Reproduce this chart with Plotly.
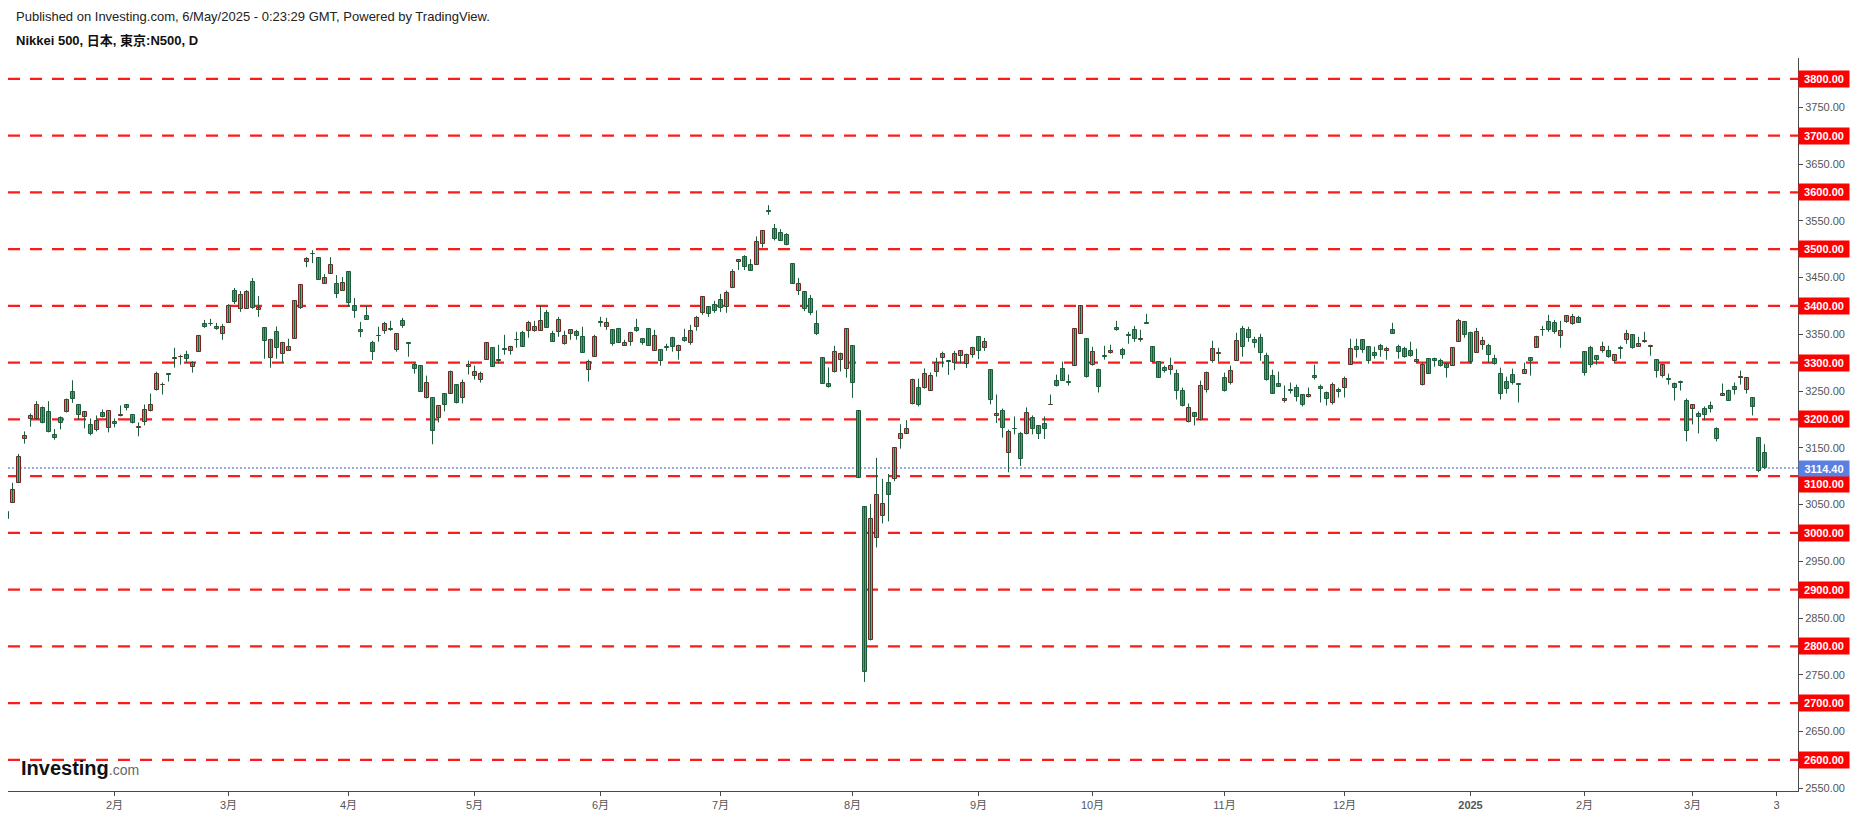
import plotly.graph_objects as go

# ---- data (daily OHLC, Nikkei 500, bar index = trading day) ----
opens = [
    3037.0, 3052.6, 3087.7, 3164.9, 3200.0, 3200.6, 3219.3, 3212.3, 3171.9, 3201.8,
    3212.3, 3249.1, 3226.3, 3203.5, 3189.5, 3180.7, 3210.5, 3184.2, 3194.7, 3206.5,
    3226.3, 3207.0, 3185.5, 3194.7, 3214.0, 3252.6, 3260.3, 3279.5, 3306.8, 3309.5,
    3314.0, 3293.0, 3319.3, 3368.4, 3368.4, 3363.2, 3350.9, 3370.2, 3426.3, 3394.7,
    3394.7, 3442.1, 3393.0, 3361.4, 3308.8, 3354.4, 3315.8, 3321.0, 3342.1, 3396.5,
    3477.2, 3491.5, 3484.2, 3438.6, 3456.1, 3438.6, 3426.3, 3459.6, 3400.0, 3357.9,
    3382.5, 3335.1, 3347.0, 3356.2, 3359.7, 3322.8, 3373.7, 3333.3, 3296.5, 3294.8,
    3236.9, 3236.9, 3201.8, 3245.6, 3245.6, 3261.4, 3236.9, 3293.0, 3277.2, 3270.2,
    3305.3, 3326.3, 3303.5, 3323.2, 3321.0, 3340.0, 3352.6, 3356.2, 3356.2, 3356.2,
    3387.7, 3350.9, 3354.4, 3333.3, 3350.9, 3354.4, 3345.6, 3287.7, 3310.5, 3370.5,
    3363.2, 3357.9, 3359.7, 3329.8, 3336.9, 3361.4, 3342.1, 3359.7, 3321.0, 3322.8,
    3326.5, 3343.9, 3321.0, 3343.9, 3335.1, 3363.2, 3387.7, 3398.2, 3401.7, 3410.8,
    3398.1, 3431.4, 3477.3, 3485.8, 3471.9, 3471.9, 3508.7, 3566.3, 3535.3, 3528.1,
    3524.4, 3473.7, 3426.5, 3424.7, 3412.0, 3368.5, 3308.7, 3263.3, 3282.7, 3305.0,
    3289.3, 3329.8, 3215.6, 3045.8, 2810.6, 2991.4, 3029.4, 3087.5, 3094.7, 3164.8,
    3175.1, 3226.5, 3256.1, 3256.1, 3250.6, 3282.7, 3308.7, 3302.3, 3300.2, 3312.3,
    3298.4, 3314.1, 3345.5, 3326.2, 3287.5, 3205.3, 3215.6, 3140.0, 3182.8, 3173.7,
    3173.7, 3201.8, 3187.7, 3191.2, 3225.5, 3268.4, 3289.5, 3265.2, 3294.8, 3350.9,
    3342.1, 3296.5, 3287.7, 3310.8, 3317.5, 3361.4, 3322.8, 3347.7, 3357.9, 3340.4,
    3370.2, 3328.1, 3301.8, 3291.2, 3287.7, 3280.7, 3250.9, 3194.8, 3210.5, 3198.2,
    3252.6, 3303.5, 3316.0, 3273.7, 3264.9, 3303.5, 3359.7, 3357.9, 3340.4, 3343.9,
    3312.3, 3277.2, 3263.2, 3231.6, 3251.2, 3256.1, 3243.9, 3240.3, 3277.2, 3257.9,
    3247.4, 3228.1, 3252.6, 3256.1, 3296.5, 3328.1, 3340.4, 3328.1, 3317.5, 3329.8,
    3321.0, 3357.9, 3328.1, 3324.6, 3321.1, 3301.8, 3261.4, 3307.0, 3307.0, 3303.5,
    3298.2, 3294.7, 3336.9, 3371.9, 3352.6, 3317.6, 3331.6, 3329.8, 3307.0, 3280.7,
    3266.7, 3279.0, 3261.0, 3280.7, 3308.8, 3326.3, 3357.6, 3371.9, 3370.2, 3347.4,
    3371.9, 3368.4, 3379.0, 3319.3, 3326.3, 3312.3, 3321.1, 3321.1, 3303.5, 3324.8,
    3340.4, 3349.1, 3328.1, 3336.9, 3328.1, 3305.3, 3277.2, 3270.5, 3263.2, 3265.2,
    3233.3, 3217.6, 3208.8, 3217.6, 3222.8, 3182.5, 3242.1, 3250.9, 3257.9, 3273.4,
    3252.6, 3238.6, 3166.7, 3140.4,
]
highs = [
    3037.0, 3088.3, 3139.2, 3178.9, 3210.5, 3232.2, 3222.8, 3232.2, 3183.1, 3205.3,
    3236.8, 3269.0, 3226.3, 3214.0, 3201.8, 3207.0, 3217.5, 3214.0, 3201.8, 3224.6,
    3226.3, 3207.0, 3194.7, 3226.3, 3245.6, 3284.2, 3264.9, 3281.3, 3326.3, 3314.0,
    3321.0, 3302.3, 3349.1, 3375.4, 3377.2, 3370.2, 3368.4, 3402.9, 3431.6, 3426.3,
    3428.1, 3449.1, 3417.5, 3361.4, 3342.1, 3363.7, 3336.8, 3342.1, 3410.5, 3436.8,
    3486.0, 3498.2, 3484.2, 3456.1, 3486.0, 3454.4, 3450.9, 3459.6, 3414.0, 3371.9,
    3400.0, 3338.6, 3363.2, 3371.9, 3373.7, 3350.9, 3379.0, 3333.3, 3300.0, 3294.8,
    3277.2, 3236.9, 3222.8, 3245.6, 3286.0, 3261.4, 3270.2, 3303.5, 3294.8, 3284.2,
    3335.1, 3326.3, 3331.6, 3349.1, 3329.8, 3354.4, 3356.2, 3373.7, 3373.7, 3400.0,
    3393.0, 3356.2, 3380.7, 3356.2, 3357.9, 3357.9, 3363.2, 3305.3, 3349.1, 3380.7,
    3379.0, 3357.9, 3361.4, 3340.4, 3354.4, 3377.2, 3342.1, 3359.7, 3357.9, 3322.8,
    3333.3, 3345.6, 3331.6, 3359.7, 3366.7, 3382.5, 3415.8, 3398.2, 3409.0, 3421.1,
    3427.1, 3464.6, 3480.9, 3489.4, 3482.7, 3522.6, 3531.7, 3577.6, 3544.4, 3535.3,
    3528.1, 3475.5, 3449.5, 3424.7, 3419.3, 3392.1, 3308.7, 3291.7, 3329.8, 3317.7,
    3361.2, 3329.8, 3215.6, 3045.8, 3051.2, 3132.2, 3095.3, 3103.8, 3149.1, 3191.4,
    3198.7, 3271.8, 3271.8, 3289.9, 3282.7, 3308.7, 3319.5, 3303.8, 3320.8, 3320.8,
    3315.9, 3328.0, 3345.5, 3343.7, 3287.5, 3244.0, 3219.2, 3182.3, 3205.3, 3178.0,
    3221.1, 3207.0, 3189.5, 3205.3, 3243.9, 3279.0, 3301.8, 3279.0, 3359.7, 3400.0,
    3342.1, 3328.1, 3289.5, 3329.8, 3331.6, 3373.7, 3326.3, 3354.4, 3364.9, 3357.9,
    3386.0, 3328.1, 3301.8, 3294.8, 3308.8, 3287.7, 3256.1, 3228.1, 3212.3, 3268.4,
    3284.2, 3338.6, 3326.3, 3282.5, 3294.8, 3352.6, 3364.9, 3363.2, 3345.6, 3350.9,
    3317.5, 3287.7, 3284.2, 3259.7, 3264.9, 3261.4, 3243.9, 3256.1, 3296.5, 3261.4,
    3249.1, 3264.9, 3256.1, 3275.5, 3342.1, 3342.1, 3340.4, 3328.1, 3328.1, 3333.3,
    3328.1, 3370.2, 3331.6, 3328.1, 3336.9, 3324.6, 3300.0, 3307.0, 3308.8, 3307.0,
    3300.0, 3326.3, 3377.2, 3371.9, 3354.4, 3361.4, 3345.6, 3333.3, 3314.0, 3291.2,
    3275.4, 3289.5, 3261.0, 3300.0, 3308.8, 3347.4, 3364.9, 3384.2, 3375.4, 3373.7,
    3384.2, 3386.0, 3382.5, 3319.3, 3329.8, 3312.3, 3336.9, 3329.8, 3314.0, 3329.8,
    3357.9, 3349.1, 3345.6, 3354.4, 3331.6, 3305.3, 3296.5, 3280.7, 3265.0, 3268.4,
    3236.9, 3226.3, 3214.0, 3222.8, 3231.6, 3186.0, 3263.2, 3252.6, 3265.0, 3286.0,
    3273.7, 3238.6, 3166.7, 3156.2,
]
lows = [
    3024.0, 3052.6, 3087.7, 3157.3, 3187.1, 3199.4, 3193.0, 3177.2, 3164.3, 3182.5,
    3212.3, 3229.2, 3199.4, 3184.2, 3171.9, 3178.9, 3203.5, 3177.2, 3186.0, 3205.3,
    3215.8, 3193.0, 3170.2, 3189.5, 3214.0, 3250.9, 3243.9, 3266.7, 3291.2, 3296.5,
    3300.0, 3282.5, 3319.3, 3361.4, 3364.9, 3357.9, 3340.3, 3370.2, 3403.5, 3389.5,
    3394.7, 3394.7, 3380.7, 3307.0, 3291.2, 3307.0, 3300.0, 3321.0, 3342.1, 3394.7,
    3468.4, 3475.4, 3445.6, 3438.6, 3456.1, 3414.0, 3426.3, 3398.2, 3379.0, 3345.0,
    3375.5, 3304.7, 3336.9, 3350.9, 3356.2, 3319.3, 3361.4, 3310.5, 3280.7, 3249.1,
    3236.9, 3156.2, 3194.8, 3214.1, 3245.6, 3228.1, 3228.1, 3279.0, 3270.2, 3264.9,
    3305.3, 3293.0, 3298.2, 3314.0, 3314.0, 3326.3, 3328.1, 3343.9, 3354.4, 3356.2,
    3361.4, 3336.9, 3345.6, 3331.6, 3340.4, 3340.4, 3317.5, 3266.7, 3310.5, 3363.2,
    3357.9, 3329.8, 3335.1, 3329.8, 3329.8, 3354.4, 3331.6, 3329.8, 3321.0, 3294.8,
    3321.0, 3319.3, 3305.3, 3336.9, 3331.6, 3356.2, 3384.2, 3380.7, 3387.8, 3389.1,
    3387.8, 3431.4, 3463.4, 3463.4, 3461.6, 3471.9, 3502.7, 3560.7, 3515.4, 3514.2,
    3506.9, 3438.6, 3419.3, 3390.9, 3383.6, 3348.6, 3263.3, 3256.1, 3282.7, 3284.5,
    3273.6, 3238.0, 3096.5, 2737.5, 2810.6, 2974.4, 3016.7, 3020.4, 3091.1, 3148.5,
    3175.1, 3226.5, 3222.8, 3254.3, 3250.6, 3275.4, 3291.7, 3278.4, 3286.9, 3298.4,
    3290.5, 3308.7, 3306.2, 3320.8, 3226.5, 3193.8, 3167.8, 3106.8, 3173.7, 3118.0,
    3173.7, 3173.7, 3165.5, 3165.5, 3225.5, 3257.9, 3268.4, 3259.7, 3294.8, 3350.9,
    3273.7, 3294.8, 3247.4, 3305.3, 3315.8, 3356.2, 3307.0, 3333.3, 3336.8, 3336.8,
    3368.4, 3301.8, 3273.7, 3282.5, 3279.0, 3235.1, 3222.8, 3194.8, 3189.5, 3198.2,
    3247.4, 3300.0, 3301.8, 3249.1, 3261.4, 3303.5, 3310.5, 3336.8, 3326.3, 3303.5,
    3268.4, 3245.6, 3257.9, 3229.8, 3245.6, 3231.6, 3222.8, 3238.6, 3270.2, 3229.8,
    3224.6, 3226.3, 3238.6, 3238.6, 3296.5, 3308.8, 3317.5, 3298.2, 3307.0, 3310.5,
    3305.3, 3350.9, 3307.0, 3308.8, 3310.5, 3300.0, 3259.7, 3280.7, 3293.0, 3293.0,
    3273.7, 3294.7, 3336.9, 3343.9, 3298.2, 3317.6, 3322.8, 3300.0, 3296.5, 3235.1,
    3245.6, 3261.4, 3229.8, 3280.7, 3277.2, 3326.3, 3347.4, 3354.4, 3350.9, 3326.3,
    3370.2, 3366.7, 3370.2, 3277.2, 3291.2, 3296.5, 3317.6, 3308.8, 3300.0, 3307.0,
    3333.3, 3324.6, 3328.1, 3335.1, 3312.3, 3273.7, 3273.7, 3261.4, 3233.3, 3250.9,
    3161.4, 3191.2, 3175.4, 3198.3, 3212.3, 3161.4, 3242.1, 3233.3, 3243.9, 3261.4,
    3245.6, 3207.0, 3107.0, 3112.3,
]
closes = [
    3024.0, 3075.4, 3133.3, 3170.2, 3205.3, 3224.6, 3193.0, 3177.2, 3166.7, 3193.0,
    3235.1, 3236.8, 3207.0, 3212.3, 3173.7, 3196.5, 3203.5, 3214.0, 3191.2, 3207.0,
    3219.3, 3193.0, 3186.0, 3215.8, 3224.6, 3280.7, 3260.8, 3279.0, 3307.0, 3309.9,
    3307.0, 3300.0, 3347.4, 3363.2, 3368.0, 3359.6, 3363.2, 3400.0, 3407.0, 3419.3,
    3424.6, 3396.5, 3396.5, 3338.6, 3340.3, 3326.3, 3335.1, 3328.1, 3408.8, 3436.8,
    3482.5, 3491.2, 3445.6, 3449.1, 3471.9, 3421.0, 3440.4, 3405.3, 3391.2, 3354.4,
    3375.5, 3319.3, 3347.4, 3368.4, 3357.9, 3350.9, 3364.9, 3333.0, 3289.5, 3249.1,
    3264.9, 3179.0, 3222.8, 3226.3, 3284.2, 3228.1, 3264.9, 3296.5, 3284.2, 3280.7,
    3335.1, 3293.0, 3305.3, 3322.8, 3328.1, 3340.4, 3328.1, 3370.2, 3363.2, 3373.7,
    3361.4, 3336.9, 3375.5, 3347.4, 3357.9, 3347.4, 3317.5, 3301.8, 3345.6, 3370.2,
    3370.2, 3333.3, 3335.1, 3335.1, 3352.6, 3356.2, 3335.1, 3329.8, 3347.4, 3303.5,
    3326.3, 3328.1, 3329.8, 3338.6, 3356.2, 3379.0, 3415.8, 3386.0, 3391.0, 3396.3,
    3422.9, 3460.4, 3480.9, 3468.2, 3461.6, 3512.3, 3531.7, 3566.1, 3517.2, 3514.2,
    3506.9, 3438.6, 3438.6, 3394.5, 3387.2, 3350.4, 3263.3, 3257.3, 3318.9, 3315.9,
    3359.4, 3264.5, 3096.5, 2755.6, 3024.6, 3066.3, 3050.6, 3066.3, 3149.1, 3175.1,
    3182.3, 3270.0, 3224.7, 3280.9, 3277.2, 3300.2, 3315.9, 3302.0, 3315.9, 3320.8,
    3314.1, 3326.2, 3320.8, 3337.1, 3234.9, 3208.9, 3184.2, 3178.7, 3182.5, 3130.0,
    3210.5, 3182.5, 3173.7, 3182.5, 3225.8, 3259.7, 3268.4, 3264.9, 3359.7, 3400.0,
    3275.5, 3319.3, 3257.9, 3310.5, 3321.0, 3357.9, 3314.0, 3347.4, 3342.1, 3342.1,
    3368.4, 3301.8, 3273.7, 3286.0, 3294.8, 3250.9, 3222.8, 3219.3, 3203.5, 3259.7,
    3282.5, 3324.6, 3316.4, 3250.3, 3286.0, 3338.6, 3328.1, 3343.9, 3335.1, 3317.5,
    3270.2, 3245.6, 3257.9, 3236.8, 3250.9, 3240.3, 3226.3, 3243.9, 3273.7, 3254.4,
    3236.8, 3261.4, 3249.1, 3271.9, 3324.6, 3322.8, 3322.8, 3303.5, 3312.3, 3322.8,
    3324.6, 3350.9, 3319.3, 3310.5, 3312.3, 3305.3, 3296.5, 3280.7, 3303.5, 3294.7,
    3291.2, 3326.3, 3373.7, 3349.1, 3301.8, 3354.4, 3338.6, 3314.0, 3298.2, 3245.6,
    3254.4, 3265.0, 3260.8, 3287.7, 3303.5, 3345.6, 3357.9, 3357.9, 3354.4, 3356.1,
    3382.5, 3380.7, 3370.2, 3282.5, 3296.5, 3305.3, 3328.1, 3310.5, 3314.0, 3324.6,
    3350.9, 3326.3, 3333.3, 3338.6, 3329.8, 3286.0, 3296.5, 3270.2, 3256.1, 3265.0,
    3179.0, 3224.6, 3203.5, 3207.0, 3217.6, 3164.9, 3245.6, 3233.3, 3252.6, 3273.7,
    3273.7, 3221.1, 3108.8, 3114.4,
]

month_tick_bars = [18, 37, 57, 78, 99, 119, 141, 162, 181, 203, 223, 244, 263, 281, 295]
month_tick_labels = ["2月", "3月", "4月", "5月", "6月", "7月", "8月", "9月", "10月",
                     "11月", "12月", "<b>2025</b>", "2月", "3月", "3"]
level_lines = [2600, 2700, 2800, 2900, 3000, 3100, 3200, 3300, 3400, 3500, 3600, 3700, 3800]
axis_ticks = [2550, 2650, 2750, 2850, 2950, 3050, 3150, 3250, 3350, 3450, 3550, 3650, 3750]
last_price = 3114.40

title_line1 = "Published on Investing.com, 6/May/2025 - 0:23:29 GMT, Powered by TradingView."
title_line2 = "Nikkei 500, 日本, 東京:N500, D"

# ---- styling ----
W, H = 1855, 819
ML, MR, MT, MB = 8, 57, 58, 25
PW = W - ML - MR
PH = H - MT - MB
PX_PER_BAR = 6.0
X0 = 0.25
X1 = X0 + PW / PX_PER_BAR
Y0, Y1 = 2545.2, 3836.9
BODY_W = 4.0 / PX_PER_BAR

UP_FILL, UP_LINE = "#f96b5c", "#7a2222"
DN_FILL, DN_LINE = "#08c46e", "#1c5c3b"
WICK = "#1f5c3c"
FONT = "Liberation Sans, Arial, Noto Sans CJK JP, sans-serif"
NARROW = "Liberation Sans Narrow, Liberation Sans, Arial, Noto Sans CJK JP, sans-serif"

n = len(closes)
idx = list(range(n))

wx, wy = [], []
for i in idx:
    wx += [i, i, None]
    wy += [lows[i], highs[i], None]

up_x, up_b, up_h, dn_x, dn_b, dn_h = [], [], [], [], [], []
for i in idx:
    lo = min(opens[i], closes[i])
    hgt = max(abs(closes[i] - opens[i]), 0.8)
    if closes[i] >= opens[i]:
        up_x.append(i); up_b.append(lo); up_h.append(hgt)
    else:
        dn_x.append(i); dn_b.append(lo); dn_h.append(hgt)

fig = go.Figure()
fig.add_trace(go.Scatter(x=wx, y=wy, mode="lines", line=dict(color=WICK, width=1),
                         hoverinfo="skip", showlegend=False))
fig.add_trace(go.Bar(x=up_x, y=up_h, base=up_b, width=BODY_W,
                     marker=dict(color=UP_FILL, line=dict(color=UP_LINE, width=1)),
                     hoverinfo="skip", showlegend=False))
fig.add_trace(go.Bar(x=dn_x, y=dn_h, base=dn_b, width=BODY_W,
                     marker=dict(color=DN_FILL, line=dict(color=DN_LINE, width=1)),
                     hoverinfo="skip", showlegend=False))

shapes = []
for lv in level_lines:
    shapes.append(dict(type="line", xref="paper", x0=0, x1=1, yref="y", y0=lv, y1=lv,
                       line=dict(color="#ff1a1a", width=2.2, dash="12px,10px"), layer="below"))
shapes.append(dict(type="line", xref="paper", x0=0, x1=1, yref="y", y0=last_price, y1=last_price,
                   line=dict(color="#2f55d4", width=1, dash="2px,2px"), layer="below"))

annotations = []
for lv in level_lines:
    annotations.append(dict(xref="paper", x=1, xanchor="left", yref="y", y=lv, yanchor="middle",
                            text="<b>%.2f</b>" % lv, showarrow=False, bgcolor="#ff0000",
                            font=dict(color="white", size=11, family=FONT),
                            width=50, height=16, borderpad=0, align="center",
                            yshift=-8 if lv == 3100 else 0))
annotations.append(dict(xref="paper", x=1, xanchor="left", yref="y", y=last_price, yanchor="middle",
                        text="<b>%.2f</b>" % last_price, showarrow=False, bgcolor="#5a80e4",
                        font=dict(color="white", size=11, family=FONT),
                        width=50, height=15, borderpad=0, align="center"))
annotations.append(dict(xref="paper", yref="paper", x=(14 - ML) / PW, y=(H - MB - 16.5) / PH,
                        xanchor="left", yanchor="middle", showarrow=False, text=title_line1,
                        font=dict(size=13, color="#222222", family=NARROW)))
annotations.append(dict(xref="paper", yref="paper", x=(14 - ML) / PW, y=(H - MB - 40) / PH,
                        xanchor="left", yanchor="middle", showarrow=False, text="<b>" + title_line2 + "</b>",
                        font=dict(size=13, color="#111111", family=NARROW)))
annotations.append(dict(xref="paper", yref="paper", x=(19 - ML) / PW, y=(H - MB - 771) / PH,
                        xanchor="left", yanchor="middle", showarrow=False,
                        text="<b>Investing</b><span style='font-size:14px;color:#666666'>.com</span>",
                        font=dict(size=20, color="#111111", family=NARROW)))

fig.update_layout(
    width=W, height=H,
    margin=dict(l=ML, r=MR, t=MT, b=MB, pad=0),
    paper_bgcolor="white", plot_bgcolor="white",
    barmode="overlay", bargap=0,
    showlegend=False,
    shapes=shapes, annotations=annotations,
    font=dict(family=FONT),
    xaxis=dict(range=[X0, X1], showgrid=False, zeroline=False, showline=True,
               linecolor="#4a4a4a", linewidth=1, ticks="outside", ticklen=4,
               tickcolor="#4a4a4a", tickvals=month_tick_bars, ticktext=month_tick_labels,
               tickfont=dict(size=11, color="#555555", family=NARROW), fixedrange=True),
    yaxis=dict(range=[Y0, Y1], side="right", showgrid=False, zeroline=False, showline=True,
               linecolor="#4a4a4a", linewidth=1, ticks="outside", ticklen=4,
               tickcolor="#4a4a4a", tickvals=axis_ticks,
               ticktext=["%.2f" % t for t in axis_ticks],
               tickfont=dict(size=11, color="#555555", family=FONT), fixedrange=True),
)

fig.write_html("out.html", config={"displayModeBar": False},
               post_script="document.body.style.margin='0';document.body.style.overflow='hidden';")
